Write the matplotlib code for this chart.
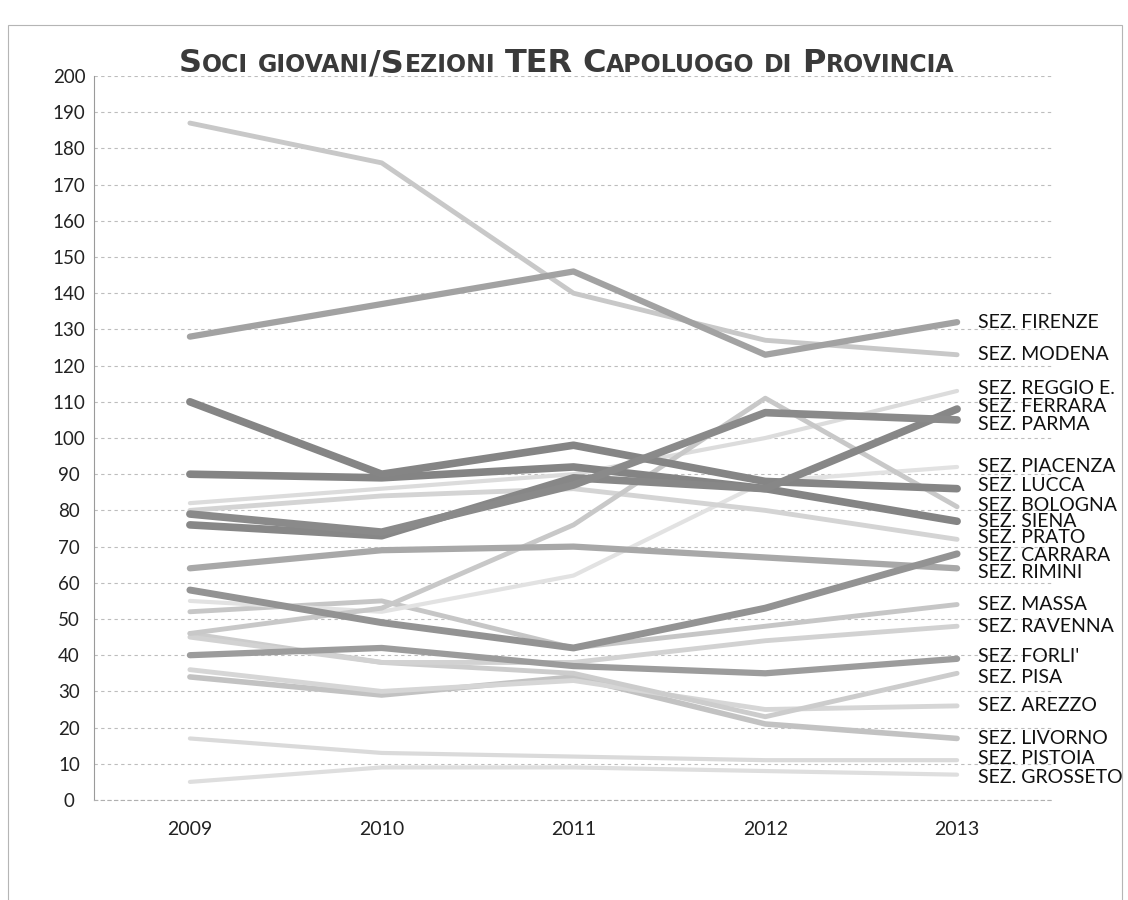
import matplotlib
matplotlib.use("Agg")
import matplotlib.pyplot as plt
from matplotlib.transforms import IdentityTransform
from matplotlib.patches import Rectangle

YEARS = ["2009", "2010", "2011", "2012", "2013"]

FIRENZE = [128, 137, 146, 123, 132]
MODENA = [187, 176, 140, 127, 123]
REGGIO_E = [82, 86, 90, 100, 113]
FERRARA = [76, 73, 89, 86, 108]
PARMA = [79, 74, 87, 107, 105]
PIACENZA = [55, 52, 62, 88, 92]
LUCCA = [110, 90, 98, 88, 86]
BOLOGNA = [46, 53, 76, 111, 81]
SIENA = [90, 89, 92, 86, 77]
PRATO = [80, 84, 86, 80, 72]
CARRARA = [58, 49, 42, 53, 68]
RIMINI = [64, 69, 70, 67, 64]
MASSA = [52, 55, 42, 48, 54]
RAVENNA = [45, 38, 38, 44, 48]
FORLI = [40, 42, 37, 35, 39]
PISA = [46, 38, 35, 23, 35]
AREZZO = [36, 30, 33, 25, 26]
LIVORNO = [34, 29, 34, 21, 17]
PISTOIA = [17, 13, 12, 11, 11]
GROSSETO = [5, 9, 9, 8, 7]

# (label, values, colour, width)
series = [
    ("SEZ. GROSSETO", GROSSETO, "#dedede", 3),
    ("SEZ. PISTOIA", PISTOIA, "#dadada", 3),
    ("SEZ. LIVORNO", LIVORNO, "#c2c2c2", 4),
    ("SEZ. AREZZO", AREZZO, "#d6d6d6", 3.5),
    ("SEZ. PISA", PISA, "#cccccc", 3.5),
    ("SEZ. RAVENNA", RAVENNA, "#d2d2d2", 3.5),
    ("SEZ. MASSA", MASSA, "#c6c6c6", 3.5),
    ("SEZ. PIACENZA", PIACENZA, "#e2e2e2", 3),
    ("SEZ. PRATO", PRATO, "#d4d4d4", 3.5),
    ("SEZ. REGGIO E.", REGGIO_E, "#dcdcdc", 3),
    ("SEZ. BOLOGNA", BOLOGNA, "#c8c8c8", 3.5),
    ("SEZ. MODENA", MODENA, "#c8c8c8", 3.5),
    ("SEZ. RIMINI", RIMINI, "#a8a8a8", 4.5),
    ("SEZ. FORLI'", FORLI, "#9c9c9c", 4.5),
    ("SEZ. CARRARA", CARRARA, "#939393", 5),
    ("SEZ. FIRENZE", FIRENZE, "#a2a2a2", 4.5),
    ("SEZ. SIENA", SIENA, "#848484", 5.5),
    ("SEZ. LUCCA", LUCCA, "#858585", 5.5),
    ("SEZ. FERRARA", FERRARA, "#878787", 5.5),
    ("SEZ. PARMA", PARMA, "#8a8a8a", 5.5),
]

# small vertical nudges (points) so the end labels crowd less
label_nudge = {
    "SEZ. REGGIO E.": 2, "SEZ. FERRARA": 2, "SEZ. PARMA": -3,
    "SEZ. LUCCA": 2, "SEZ. BOLOGNA": 1, "SEZ. PRATO": 1,
    "SEZ. CARRARA": -1, "SEZ. RIMINI": -3, "SEZ. FORLI'": 2,
    "SEZ. PISA": -3, "SEZ. PISTOIA": 1, "SEZ. GROSSETO": -2,
}

FONT = "Lato"

fig = plt.figure(figsize=(11.28, 9.0), dpi=100)
ax = fig.add_axes([94 / 1128, 100 / 900, (1053 - 94) / 1128, 724 / 900])

x = list(range(len(YEARS)))
for name, vals, col, lw in series:
    ax.plot(x, vals, color=col, lw=lw, solid_capstyle="round", zorder=3)
    ax.annotate(name, xy=(x[-1], vals[-1]),
                xytext=(15, label_nudge.get(name, 0)),
                textcoords="offset points", va="center", ha="left",
                fontsize=14, family=FONT, color="#111111",
                annotation_clip=False)

ax.set_xlim(-0.5, 4.5)
ax.set_ylim(0, 200)
ax.set_yticks(range(0, 201, 10))
ax.set_xticks(x)
ax.set_xticklabels(YEARS)
ax.grid(axis="y", color="#bdbdbd", lw=0.8, ls=(0, (3, 3)), zorder=0)

for side in ["top", "right"]:
    ax.spines[side].set_visible(False)
ax.spines["left"].set_color("#9a9a9a")
ax.spines["left"].set_linewidth(0.8)
ax.spines["bottom"].set_color("#b0b0b0")
ax.spines["bottom"].set_linewidth(0.8)
ax.spines["bottom"].set_linestyle((0, (3, 3)))

ax.tick_params(axis="y", length=0, pad=18, labelsize=13.5, labelcolor="#222222")
ax.tick_params(axis="x", length=0, pad=15, labelsize=14, labelcolor="#222222")
for lbl in ax.get_yticklabels():
    lbl.set_ha("center")
    lbl.set_family(FONT)
for lbl in ax.get_xticklabels():
    lbl.set_family(FONT)

# faint frame of the scanned page
fig.patches.append(Rectangle((8 / 1128, -0.01), 1114 / 1128, 875 / 900 + 0.01,
                             transform=fig.transFigure, fill=False,
                             ec="#b5b5b5", lw=0.8))

# title in small caps
title = "Soci giovani/Sezioni TER Capoluogo di Provincia"
big, small = 23, 17
runs = []
for ch in title:
    if ch == " ":
        runs.append((" ", None))
        continue
    size = big if (ch.isupper() or not ch.isalpha()) else small
    if runs and runs[-1][1] == size:
        runs[-1] = (runs[-1][0] + ch.upper(), size)
    else:
        runs.append((ch.upper(), size))

renderer = fig.canvas.get_renderer()
space = 9
texts = []
total = 0
for txt, size in runs:
    if size is None:
        texts.append((None, space))
        total += space
        continue
    t = fig.text(0, 0, txt, fontsize=size, fontweight="bold", family="DejaVu Sans",
                 color="#3a3a3a", transform=IdentityTransform(), va="baseline")
    w = t.get_window_extent(renderer).width
    texts.append((t, w))
    total += w + 0.5

xpos = 567 - total / 2
for t, w in texts:
    if t is not None:
        t.set_position((xpos, 900 - 72))
        xpos += w + 0.5
    else:
        xpos += w

fig.savefig("out.png", dpi=100)
